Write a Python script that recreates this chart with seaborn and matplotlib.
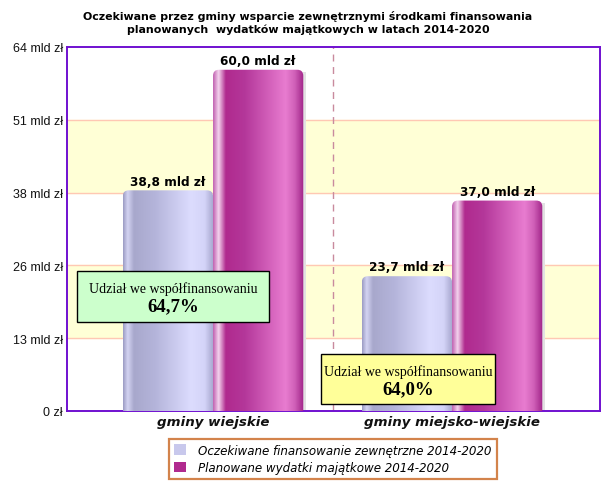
import numpy as np
import pandas as pd
import matplotlib
matplotlib.use("Agg")
import matplotlib.pyplot as plt
from matplotlib.colors import LinearSegmentedColormap
from matplotlib.patches import Patch, Rectangle, FancyBboxPatch
import seaborn as sns

# values
categories = ["gminy wiejskie", "gminy miejsko-wiejskie"]
series = ["Oczekiwane finansowanie zewnętrzne 2014-2020",
          "Planowane wydatki majątkowe 2014-2020"]
expected = [38.8, 23.7]
planned = [60.0, 37.0]
shares = ["64,7%", "64,0%"]
share_caption = "Udział we współfinansowaniu"
y_ticks = [0, 12.8, 25.6, 38.4, 51.2, 64]
y_tick_labels = ["0 zł", "13 mld zł", "26 mld zł", "38 mld zł", "51 mld zł", "64 mld zł"]
title = ("Oczekiwane przez gminy wsparcie zewnętrznymi środkami finansowania\n"
         "planowanych  wydatków majątkowych w latach 2014-2020")

df = pd.DataFrame({
    "gmina": categories * 2,
    "seria": [series[0]] * 2 + [series[1]] * 2,
    "wartosc": expected + planned,
})

# horizontal "cylinder" shading for each series
grad_blue = LinearSegmentedColormap.from_list("b", [
    (0.0, "#9c9cc4"), (0.05, "#d4d4f2"), (0.12, "#a8a8cc"), (0.35, "#b4b4da"),
    (0.75, "#dcdcfe"), (0.9, "#d4d4f8"), (1.0, "#a4a4cc")])
grad_pink = LinearSegmentedColormap.from_list("p", [
    (0.0, "#c060b0"), (0.06, "#f4d4ee"), (0.14, "#b02a8e"), (0.35, "#b4379a"),
    (0.8, "#e87cd0"), (0.9, "#d060b8"), (1.0, "#a02488")])
legend_colors = ["#c8c8ec", "#b02a8e"]

sns.set_style("white")
plt.rcParams["font.family"] = ["DejaVu Sans"]
plt.rcParams["text.color"] = "black"

fig = plt.figure(figsize=(6.06, 4.89), dpi=100)
ax = fig.add_axes([67 / 606, 1 - 412 / 489, 533 / 606, 364 / 489])

sns.barplot(data=df, x="gmina", y="wartosc", hue="seria", palette=legend_colors,
            width=0.755, saturation=1, ax=ax, legend=False, zorder=3)

# background bands and grid
for lo, hi in [(12.8, 25.6), (38.4, 51.2)]:
    ax.axhspan(lo, hi, color="#ffffd6", zorder=0)
for t in y_ticks[1:-1]:
    ax.axhline(t, color="#ffc8b4", lw=1, zorder=1)
ax.axvline(0.5, color="#c98a9e", lw=1, ls=(0, (5, 4)), zorder=1)

ramp = np.linspace(0, 1, 256).reshape(1, -1)
px_x, px_y = 1 / 239, 64 / 364   # data units per pixel
for cont, cmap in zip(ax.containers, [grad_blue, grad_pink]):
    for bar in cont:
        x0, y0 = bar.get_x(), bar.get_y()
        w, h = bar.get_width(), bar.get_height()
        # soft shadow on the right
        ax.add_patch(Rectangle((x0 + w, y0), 3 * px_x, h - 2 * px_y, color="#e2e2e2",
                               zorder=2, lw=0))
        clip = FancyBboxPatch((x0, y0 - 3), w, h + 3,
                              boxstyle=f"round,pad=0,rounding_size={6 * px_x}",
                              mutation_aspect=px_y / px_x, transform=ax.transData,
                              facecolor="none", edgecolor="none")
        ax.add_patch(clip)
        img = ax.imshow(ramp, cmap=cmap, aspect="auto", extent=[x0, x0 + w, y0, y0 + h],
                        zorder=3, interpolation="bilinear")
        img.set_clip_path(clip)
        bar.set_facecolor("none")
        bar.set_edgecolor("none")
        label = f"{h:.1f}".replace(".", ",") + " mld zł"
        ax.annotate(label, (x0 + w / 2, y0 + h), xytext=(0, 2), textcoords="offset points",
                    ha="center", va="bottom", fontsize=8.7, fontweight="bold", zorder=5)

ax.set_xlim(-0.611, 1.619)
ax.set_ylim(0, 64)
ax.set_yticks(y_ticks)
ax.set_yticklabels(y_tick_labels, fontsize=9, family="Liberation Sans", color="#111111")
ax.set_xticks([0, 1])
ax.set_xticklabels(categories, fontsize=9.6, fontweight="bold", fontstyle="italic",
                   color="#111111")
ax.tick_params(axis="both", length=0, pad=3)
ax.set_xlabel("")
ax.set_ylabel("")
for s in ax.spines.values():
    s.set_visible(True)
    s.set_color("#7010d0")
    s.set_linewidth(1.4)

fig.text(0.508, 0.978, title, ha="center", va="top", fontsize=7.9, fontweight="bold",
         linespacing=1.35)

# share boxes
boxes = [(77, 272, 192, 51), (321, 355, 174, 50)]
box_colors = ["#ccffcc", "#ffff99"]
for (bx, by, bw, bh), fc, share in zip(boxes, box_colors, shares):
    fig.patches.append(Rectangle((bx / 606, 1 - (by + bh) / 489), bw / 606, bh / 489,
                                 transform=fig.transFigure, facecolor=fc, edgecolor="black",
                                 lw=1, zorder=6))
    cx = (bx + bw / 2) / 606
    fig.text(cx, 1 - (by + 17) / 489, share_caption, ha="center", va="center",
             fontsize=10, family="Liberation Serif", zorder=7)
    fig.text(cx, 1 - (by + 35) / 489, share, ha="center", va="center",
             fontsize=13.5, fontweight="bold", family="Liberation Serif", zorder=7)

handles = [Patch(facecolor=c, edgecolor="none") for c in legend_colors]
leg = fig.legend(handles, series, loc="center", bbox_to_anchor=(333 / 606, 1 - 460 / 489),
                 ncol=1, frameon=True, fancybox=False, prop={"size": 8.6, "style": "italic"},
                 handlelength=1.0, handleheight=1.0, borderpad=0.45, labelspacing=0.35,
                 handletextpad=1.0, borderaxespad=0)
leg.get_frame().set_edgecolor("#c8641e")
leg.get_frame().set_linewidth(1.6)

fig.savefig("out.png", dpi=100)
